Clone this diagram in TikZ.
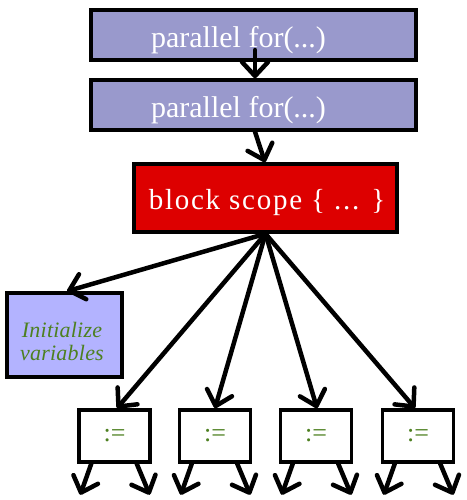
\documentclass[tikz,border=0pt]{standalone}
\usepackage{fontspec}
\setmainfont{Liberation Serif}
\usetikzlibrary{arrows.meta}
\definecolor{forblue}{RGB}{153,153,204}
\definecolor{scopered}{RGB}{221,0,0}
\definecolor{initblue}{RGB}{179,179,255}
\definecolor{codegreen}{RGB}{77,128,32}
\begin{document}
\begin{tikzpicture}[x=1pt,y=1pt,
  forbox/.style={draw=black,line width=3.5pt,fill=forblue,minimum width=325pt,minimum height=50pt,inner sep=0pt},
  fortext/.style={font=\fontsize{30}{34}\selectfont,text=white,inner sep=0pt},
  scopebox/.style={draw=black,line width=3.5pt,fill=scopered,minimum width=263pt,minimum height=68pt,inner sep=0pt},
  scopetext/.style={font=\fontsize{29}{34}\selectfont\addfontfeature{LetterSpace=6},text=white,inner sep=0pt},
  initbox/.style={draw=black,line width=3.5pt,fill=initblue,minimum width=115pt,minimum height=84pt,inner sep=0pt},
  inittext/.style={font=\fontsize{22}{23}\selectfont\itshape\addfontfeature{LetterSpace=1},text=codegreen,align=center,inner sep=0pt},
  assignbox/.style={draw=black,line width=3.5pt,fill=white,minimum width=71pt,minimum height=52pt,inner sep=0pt,font=\fontsize{26}{28}\selectfont,text=codegreen},
  arr/.style={line width=4.5pt,line cap=round,-{Straight Barb[length=14pt,width=26pt,line width=4.5pt,round]}}
]
\useasboundingbox (0,0) rectangle (466,-500);
\node[forbox] (f1) at (253.5,-35) {};
\node[fortext] (t1) at (238.5,-40) {parallel for(...)};
\node[forbox] (f2) at (253.5,-105) {};
\node[fortext] (t2) at (238.5,-110) {parallel for(...)};
\node[scopebox] (s) at (265.5,-198) {};
\node[scopetext] (st) at (267,-203) {block scope \{ ... \}};
\node[initbox] (init) at (64.5,-335) {};
\node[inittext] (it) at (62,-341) {Initialize\\variables};
\node[assignbox] (b1) at (114.5,-436) {:=};
\node[assignbox] (b2) at (215,-436) {:=};
\node[assignbox] (b3) at (316,-436) {:=};
\node[assignbox] (b4) at (418,-436) {:=};
\coordinate (f1s) at (255,-50);
\draw[arr] (f1s) -- (f1s |- f2.north);
\draw[arr] ([xshift=1.5pt]f2.south) -- ([xshift=-0.5pt]s.north);
\draw[arr] (s.south) -- ([xshift=2.5pt]init.north);
\draw[arr] (s.south) -- ([xshift=2.5pt]b1.north);
\draw[arr] (s.south) -- (b2.north);
\draw[arr] (s.south) -- ([xshift=1pt]b3.north);
\draw[arr] (s.south) -- ([xshift=-3pt]b4.north);
\foreach \b in {b1,b2,b3,b4}{
  \draw[arr] ([xshift=14pt]\b.south west) -- ++(-11pt,-31pt);
  \draw[arr] ([xshift=-15pt]\b.south east) -- ++(13pt,-31pt);
}
\end{tikzpicture}
\end{document}
